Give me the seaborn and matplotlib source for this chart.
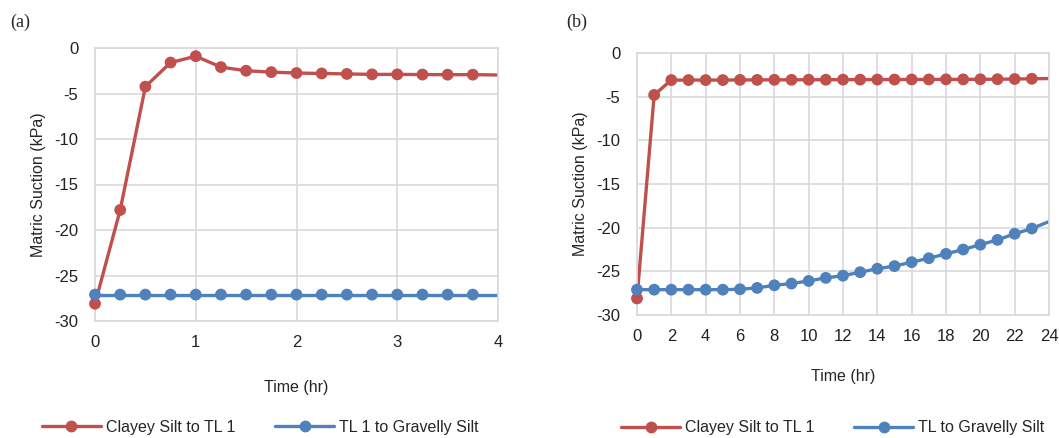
import pandas as pd
import matplotlib.pyplot as plt
from matplotlib.lines import Line2D
import seaborn as sns

# panel (a): 0..4 hr, every 15 min (last value lies just past the axis edge)
time_a = [0, 0.25, 0.5, 0.75, 1.0, 1.25, 1.5, 1.75, 2.0, 2.25, 2.5, 2.75, 3.0, 3.25, 3.5, 3.75, 4.25]
clayey_a = [-28.1, -17.8, -4.25, -1.6, -0.9, -2.1, -2.5, -2.65, -2.75, -2.8, -2.85, -2.9,
            -2.9, -2.92, -2.93, -2.93, -3.0]
gravelly_a = [-27.1] * 17

# panel (b): 0..24 hr, hourly (last value lies just past the axis edge)
time_b = list(range(0, 24)) + [25]
clayey_b = [-28.1, -4.8, -3.1, -3.1, -3.1, -3.1, -3.08, -3.08, -3.07, -3.07, -3.06, -3.06,
            -3.05, -3.05, -3.04, -3.04, -3.03, -3.03, -3.02, -3.02, -3.01, -3.0, -2.98, -2.95, -2.9]
gravelly_b = [-27.1, -27.1, -27.1, -27.1, -27.1, -27.1, -27.05, -26.9, -26.6, -26.4, -26.1,
              -25.75, -25.5, -25.1, -24.7, -24.4, -23.95, -23.5, -23.0, -22.5, -21.95, -21.4,
              -20.7, -20.1, -18.5]

RED = "#C0504D"
BLUE = "#4F81BD"
GRID = "#D9D9D9"
MS = 8.5

sns.set_style("white")
plt.rcParams['font.family'] = ['Liberation Sans', 'DejaVu Sans']
plt.rcParams['axes.unicode_minus'] = False


def make_df(t, s1, s2, n1, n2):
    return pd.concat([
        pd.DataFrame({"time": t, "suction": s1, "series": n1}),
        pd.DataFrame({"time": t, "suction": s2, "series": n2}),
    ])


def draw(ax, df, names, xmax, xticks):
    # lines run to the axis edge, markers only for points inside the range
    sns.lineplot(data=df, x="time", y="suction", hue="series", hue_order=names,
                 palette=[RED, BLUE], linewidth=2.4, ax=ax, legend=False, sort=False)
    inside = df[df.time <= xmax]
    sns.scatterplot(data=inside, x="time", y="suction", hue="series", hue_order=names,
                    palette=[RED, BLUE], s=MS ** 2, linewidth=0, ax=ax, legend=False,
                    clip_on=False, zorder=3)
    ax.set_xlim(0, xmax)
    ax.set_ylim(-30, 0)
    ax.set_xticks(xticks)
    ax.set_yticks(range(-30, 1, 5))
    ax.grid(True, color=GRID, linewidth=1.2)
    ax.set_axisbelow(True)
    for sp in ax.spines.values():
        sp.set_color(GRID)
        sp.set_linewidth(1.2)
    ax.tick_params(axis="both", length=0, labelsize=12, colors="#222222")
    ax.tick_params(axis="y", pad=12)
    ax.tick_params(axis="x", pad=10)
    ax.set_ylabel("Matric Suction (kPa)", fontsize=11.5, labelpad=6)
    ax.set_xlabel("Time (hr)", fontsize=11.5, labelpad=22)
    handles = [Line2D([], [], color=RED, lw=2.4, marker="o", markersize=MS, markeredgewidth=0),
               Line2D([], [], color=BLUE, lw=2.4, marker="o", markersize=MS, markeredgewidth=0)]
    ax.legend(handles, names, loc="center", ncol=2, borderpad=0.2,
              frameon=False, fontsize=11.5, handlelength=3.7, columnspacing=2.5,
              handletextpad=0.3)


fig = plt.figure(figsize=(10.59, 4.38), dpi=100)
ax1 = fig.add_axes([95 / 1059, 1 - 321 / 438, 403 / 1059, 273 / 438])
ax2 = fig.add_axes([637 / 1059, 1 - 315 / 438, 412 / 1059, 262 / 438])

names_a = ["Clayey Silt to TL 1", "TL 1 to Gravelly Silt"]
names_b = ["Clayey Silt to TL 1", "TL to Gravelly Silt"]
draw(ax1, make_df(time_a, clayey_a, gravelly_a, *names_a), names_a, 4, range(0, 5))
draw(ax2, make_df(time_b, clayey_b, gravelly_b, *names_b), names_b, 24, range(0, 25, 2))
ax1.legend_.set_bbox_to_anchor((0.41, -0.39))
ax2.xaxis.labelpad = 18
ax2.legend_.set_bbox_to_anchor((0.475, -0.43))

fig.text(10 / 1059, 1 - 22 / 438, "(a)", family="Liberation Serif", fontsize=13, va="center")
fig.text(566 / 1059, 1 - 22 / 438, "(b)", family="Liberation Serif", fontsize=13, va="center")

fig.savefig("out.png", dpi=100)
